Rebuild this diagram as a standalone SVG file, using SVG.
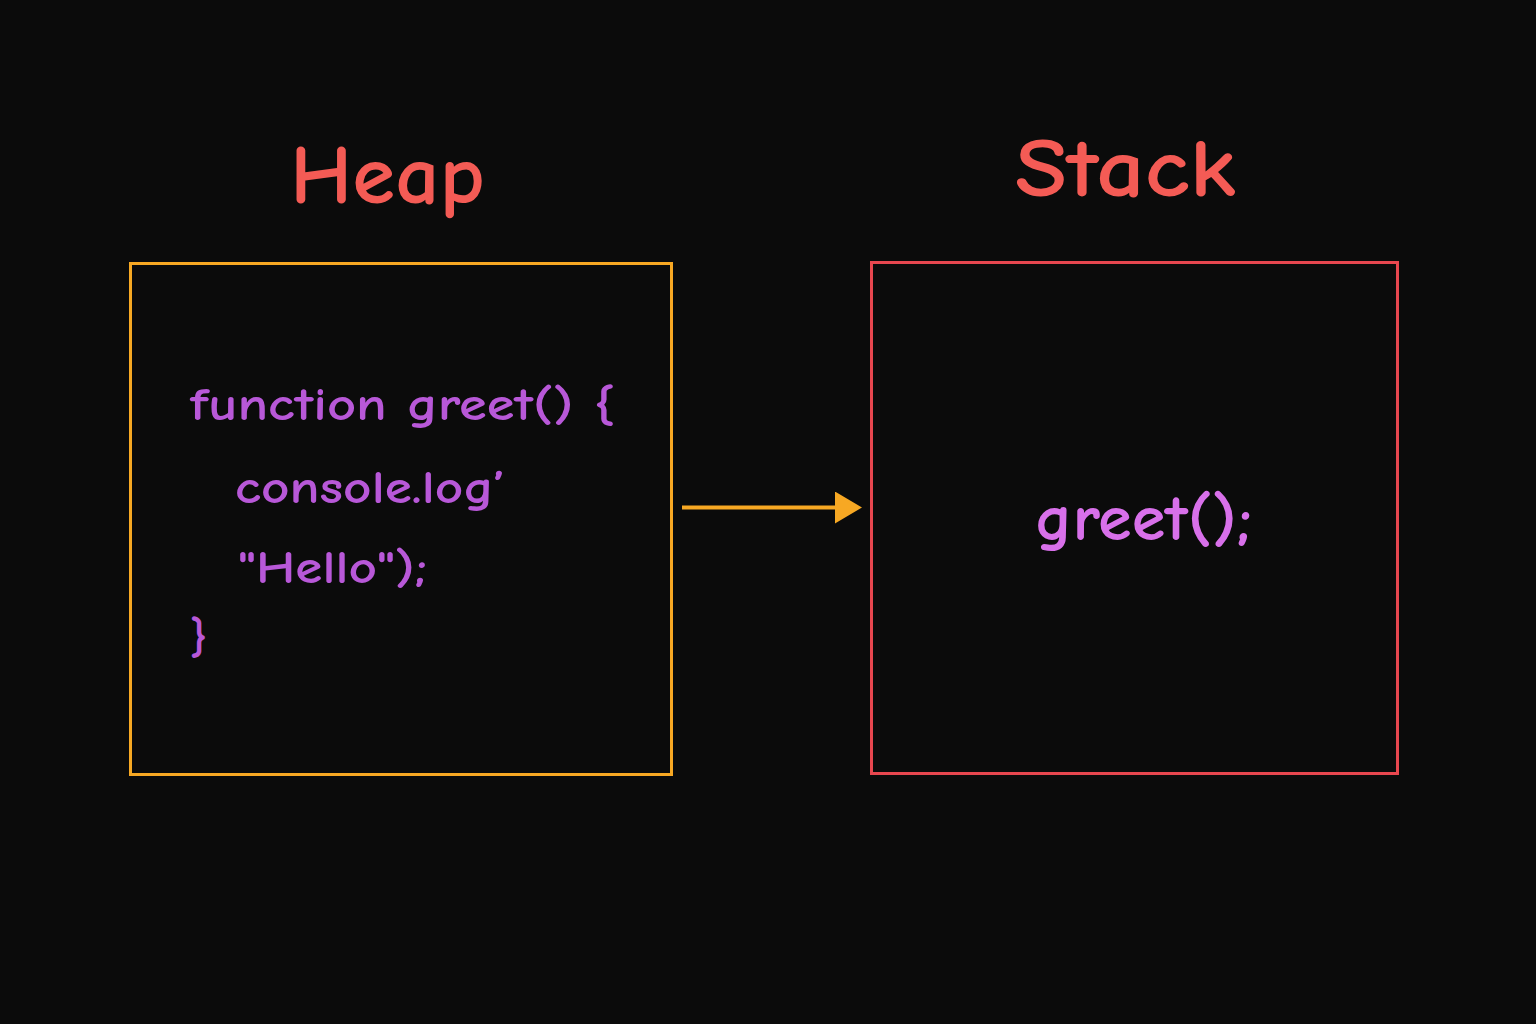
<svg xmlns="http://www.w3.org/2000/svg" width="1536" height="1024" viewBox="0 0 1536 1024">
  <defs>
    <style>
      .title { font-family: "Comic Neue", "Lato", "Noto Sans", sans-serif; font-size: 82px; fill: #f45b55; font-weight: bold; }
      .code { font-family: "Comic Neue", "Lato", "Noto Sans", sans-serif; font-size: 46px; fill: #b858d8; font-weight: bold; }
      .call { font-family: "Comic Neue", "Lato", "Noto Sans", sans-serif; font-size: 64px; fill: #d870ea; font-weight: bold; }
      .box { fill: #0b0b0b; stroke-width: 3; }
    </style>
    <marker id="arrowhead" viewBox="0 0 10 10" refX="8.15" refY="5" markerWidth="27" markerHeight="32" markerUnits="userSpaceOnUse" preserveAspectRatio="none" orient="auto">
      <path d="M0,0 L10,5 L0,10 Z" fill="#f7a823"/>
    </marker>
  </defs>
  <rect x="0" y="0" width="1536" height="1024" fill="#0b0b0b"/>

  <g id="heap-title">
    <text class="title" x="290" y="203" textLength="195" lengthAdjust="spacingAndGlyphs">Heap</text>
  </g>
  <g id="stack-title">
    <text class="title" x="1015" y="196" textLength="221" lengthAdjust="spacingAndGlyphs">Stack</text>
  </g>

  <g id="heap">
    <rect class="box" x="130.5" y="263.5" width="541" height="511" stroke="#f7a823"/>
    <text class="code" x="190" y="420" textLength="425" lengthAdjust="spacingAndGlyphs">function greet() {</text>
    <text class="code" x="235" y="503" textLength="270" lengthAdjust="spacingAndGlyphs">console.log’</text>
    <text class="code" x="238" y="583" textLength="189" lengthAdjust="spacingAndGlyphs">"Hello");</text>
    <text class="code" x="190" y="652">}</text>
  </g>

  <g id="stack">
    <rect class="box" x="871.5" y="262.5" width="526" height="511" stroke="#e8474f"/>
    <text class="call" x="1035" y="540" textLength="217" lengthAdjust="spacingAndGlyphs">greet();</text>
  </g>

  <g id="connectors">
    <line x1="682" y1="507.5" x2="857" y2="507.5" stroke="#f7a823" stroke-width="4" stroke-linecap="butt" marker-end="url(#arrowhead)"/>
  </g>
</svg>
